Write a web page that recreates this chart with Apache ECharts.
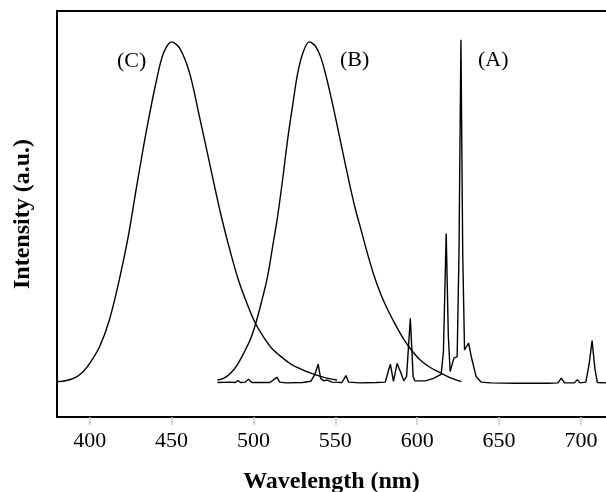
<!DOCTYPE html>
<html>
<head>
<meta charset="utf-8">
<script src="https://cdn.jsdelivr.net/npm/echarts@6/dist/echarts.min.js"></script>
<style>
html,body{margin:0;padding:0;background:#fff;}
#chart{width:606px;height:492px;}
</style>
</head>
<body>
<div id="chart"></div>
<script>
// Wavelength (nm) and intensity (a.u.)
const curveC = [
  [379.6,8.7],[386,9.0],[392,9.9],[396,11.2],[400,13.2],[406,17.3],[412,23.9],[418,33.7],
  [423.5,44.4],[428.6,56.7],[434.7,70.7],[440.8,83.0],[445,89.6],[450,92.4],[455,90.8],
  [461,84.7],[467,74],[474,61],[480,50],[486,40.5],[491,33.5],[496,28],[501,23.2],
  [506,19.8],[511,17],[517,14.8],[523,13],[529,11.8],[535,10.8],[541,10],[547,9.4],[551,9.1]
];
const curveB = [
  [478,9.1],[482,9.6],[486,10.8],[490,12.8],[494,15.7],[498,19],[501.4,23.1],[505,28.5],
  [508.6,34.6],[511.5,41.5],[514.7,49.3],[517.8,58.5],[520.8,68.2],[524,77],[527,84.7],
  [530.5,90],[534,92.4],[537.5,91.5],[541,88.7],[544,84.5],[547.3,78.9],[550.5,73],
  [553.4,67.4],[556.5,61.5],[559.5,55.9],[562.5,50.8],[565.7,46.1],[569.8,40],[573.8,34.6],
  [578,30],[582,26.4],[587,22.5],[592,19],[597,16.2],[602,14],[608,12.2],[614.6,10.8],
  [620,9.7],[627,8.7]
];
const curveA = [
  [478,8.5],[485,8.6],[489,8.5],[490.5,9.0],[492,8.5],[495,8.6],[497,9.3],[499,8.5],[510,8.5],
  [512.5,9.2],[514.3,9.8],[516,8.6],[520,8.4],[530,8.5],[535,8.8],[537.5,10.5],[539.5,13],
  [541,9.5],[543,8.9],[545,9.1],[548,8.6],[554,8.5],[556.5,10.2],[558,8.6],[565,8.4],
  [575,8.5],[580.5,8.6],[582.5,11.5],[583.6,13],[585.5,8.8],[587.7,13.2],[589.7,11.2],
  [591.8,8.9],[593.5,10],[595.8,24.3],[597.5,10],[598.5,8.9],[605,8.9],[610,9.5],
  [614.6,10.5],[616,16],[617.7,45.2],[619,20],[620.1,11.2],[622.4,14.5],[624.4,14.9],
  [625.5,40],[626.7,92.9],[627.8,40],[628.9,16.5],[631.4,18.2],[633,14.9],[636,9.9],
  [639,8.6],[645,8.4],[660,8.3],[680,8.3],[686,8.4],[688,9.6],[690,8.4],[696,8.4],
  [697.8,9.2],[699.5,8.4],[703,8.6],[705,13],[706.8,18.8],[708.5,12],[710,8.5],[716,8.4]
];
const xTicks = [400,450,500,550,600,650,700];
const curveLabels = ['(A)','(B)','(C)'];
const xTitle = 'Wavelength (nm)';
const yTitle = 'Intensity (a.u.)';

const serif = "'Liberation Serif','Times New Roman',serif";
const chart = echarts.init(document.getElementById('chart'), null, {renderer:'canvas'});

function lineSeries(name, data, smooth){
  return {
    name, type:'line', data, smooth, showSymbol:false, silent:true,
    lineStyle:{color:'#000', width:1.4}, z:3
  };
}
const frameLine = {show:true, lineStyle:{color:'#000', width:2}};

chart.setOption({
  animation:false,
  backgroundColor:'#fff',
  grid:{left:57, top:11, right:0, bottom:75, show:false, containLabel:false, outerBoundsMode:'none'},
  xAxis:[{
    type:'value', min:380, max:715.3, position:'bottom',
    name:xTitle, nameLocation:'middle', nameGap:53,
    nameTextStyle:{fontFamily:serif, fontSize:24, fontWeight:'bold', color:'#000'},
    axisLine:frameLine,
    axisTick:{show:true, customValues:xTicks, length:8, lineStyle:{color:'#c8c8c8', width:1.5}},
    axisLabel:{customValues:xTicks, fontFamily:serif, fontSize:22, color:'#000', margin:13},
    splitLine:{show:false}
  },{
    type:'value', min:380, max:715.3, position:'top',
    axisLine:frameLine, axisTick:{show:false}, axisLabel:{show:false}, splitLine:{show:false}
  }],
  yAxis:{
    type:'value', min:0, max:100,
    name:yTitle, nameLocation:'middle', nameGap:22, nameRotate:90,
    nameTextStyle:{fontFamily:serif, fontSize:24, fontWeight:'bold', color:'#000'},
    axisLine:frameLine, axisTick:{show:false}, axisLabel:{show:false}, splitLine:{show:false}
  },
  graphic:[
    {type:'text', left:478, top:49, style:{text:curveLabels[0], font:'22px '+serif, fill:'#000'}},
    {type:'text', left:340, top:49, style:{text:curveLabels[1], font:'22px '+serif, fill:'#000'}},
    {type:'text', left:117, top:50, style:{text:curveLabels[2], font:'22px '+serif, fill:'#000'}}
  ],
  series:[
    lineSeries('C', curveC, 0.3),
    lineSeries('B', curveB, 0.3),
    lineSeries('A', curveA, false)
  ]
});
</script>
</body>
</html>
